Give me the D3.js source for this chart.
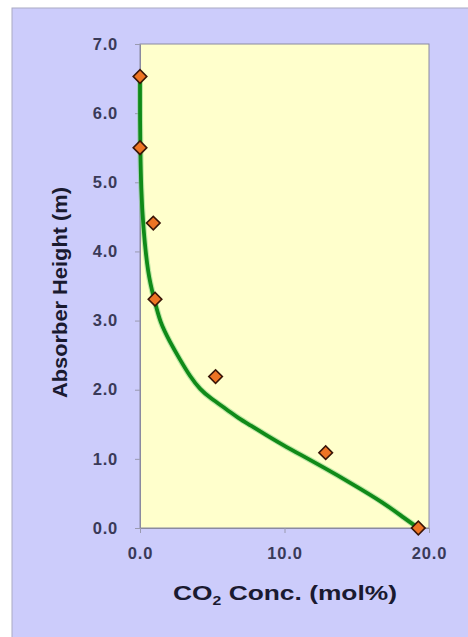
<!DOCTYPE html>
<html>
<head>
<meta charset="utf-8">
<script src="https://cdn.jsdelivr.net/npm/d3@7"></script>
<style>
  html, body { margin: 0; padding: 0; background: #ffffff; }
  svg { display: block; }
</style>
</head>
<body>
<svg id="chart" width="468" height="637"></svg>
<script>
// Measured CO2 concentration (mol%) at each absorber height (m)
const co2Measured = [0.0, 0.0, 0.92, 1.04, 5.23, 12.85, 19.26];
const heightMeasured = [6.53, 5.5, 4.41, 3.31, 2.19, 1.09, 0.0];

// Smoothed model profile through the column
const co2Model = [0.0, 0.0, 0.02, 0.08, 0.2, 0.55, 1.0, 1.39, 2.05, 2.78, 3.47, 4.17, 4.86, 6.04, 6.8, 7.6, 8.7, 9.9, 11.2, 12.5, 14.6, 16.9, 18.3, 19.26];
const heightModel = [6.53, 6.0, 5.5, 4.9, 4.4, 3.65, 3.3, 2.97, 2.7, 2.43, 2.19, 2.0, 1.88, 1.71, 1.59, 1.49, 1.35, 1.2, 1.05, 0.9, 0.65, 0.36, 0.14, 0.0];

const xTicks = [0, 10, 20];
const xTickLabels = ["0.0", "10.0", "20.0"];
const yTicks = [0, 1, 2, 3, 4, 5, 6, 7];
const yTickLabels = ["0.0", "1.0", "2.0", "3.0", "4.0", "5.0", "6.0", "7.0"];

const svg = d3.select("#chart");
const W = 468, H = 637;
const plot = { left: 140, top: 44, right: 429, bottom: 528 };

// Outer panel
svg.append("rect")
  .attr("x", 12).attr("y", 8)
  .attr("width", W - 12 + 2).attr("height", H - 8 + 2)
  .attr("fill", "#ccccfb")
  .attr("stroke", "#a9a9c4").attr("stroke-width", 1);

const x = d3.scaleLinear().domain([0, 20]).range([plot.left, plot.right]);
const y = d3.scaleLinear().domain([0, 7]).range([plot.bottom, plot.top]);

// Plot area
svg.append("rect")
  .attr("x", plot.left).attr("y", plot.top)
  .attr("width", plot.right - plot.left).attr("height", plot.bottom - plot.top)
  .attr("fill", "#ffffcc")
  .attr("stroke", "#8a8aa0").attr("stroke-width", 1);

// Axes
const font = "Arial, 'Liberation Sans', sans-serif";
const yAxis = d3.axisLeft(y).tickValues(yTicks)
  .tickFormat((d, i) => yTickLabels[i]).tickSizeInner(5).tickSizeOuter(0).tickPadding(17);
const xAxis = d3.axisBottom(x).tickValues(xTicks)
  .tickFormat((d, i) => xTickLabels[i]).tickSizeInner(5).tickSizeOuter(0).tickPadding(14);

const gy = svg.append("g").attr("transform", `translate(${plot.left},0)`).call(yAxis);
const gx = svg.append("g").attr("transform", `translate(0,${plot.bottom})`).call(xAxis);
[gx, gy].forEach(g => {
  g.select(".domain").attr("stroke", "#8a8aa0");
  g.selectAll(".tick line").attr("stroke", "#9a9ab0");
  g.selectAll(".tick text")
    .attr("fill", "#3a3a58")
    .style("font-family", font)
    .style("font-size", "16.5px")
    .style("letter-spacing", "0.8px")
    .style("font-weight", "bold");
});

// Model profile (B-spline through the profile points)
const line = d3.line()
  .x((d, i) => x(co2Model[i]))
  .y((d, i) => y(heightModel[i]))
  .curve(d3.curveBasis);

svg.append("path")
  .datum(co2Model)
  .attr("d", line)
  .attr("fill", "none")
  .attr("stroke", "#7fd07f")
  .attr("stroke-opacity", 0.5)
  .attr("stroke-width", 6);
svg.append("path")
  .datum(co2Model)
  .attr("d", line)
  .attr("fill", "none")
  .attr("stroke", "#108a18")
  .attr("stroke-width", 3.8)
  .attr("stroke-linejoin", "round");

// Measured points
const diamond = d3.symbol().type(d3.symbolSquare).size(92);
svg.append("g").selectAll("path")
  .data(co2Measured)
  .join("path")
  .attr("d", diamond)
  .attr("transform", (d, i) => `translate(${x(d)},${y(heightMeasured[i])}) rotate(45)`)
  .attr("fill", "#ee7424")
  .attr("stroke", "#3a1508")
  .attr("stroke-width", 1.6);

// Axis titles
const xTitle = svg.append("text")
  .attr("x", 285).attr("y", 600)
  .attr("text-anchor", "middle")
  .attr("fill", "#1a1a30")
  .style("font-family", font)
  .style("font-size", "20px")
  .style("font-weight", "bold");
xTitle.append("tspan").text("CO");
xTitle.append("tspan").text("2").attr("dy", 5).style("font-size", "12px");
xTitle.append("tspan").text(" Conc. (mol%)").attr("dy", -5);
xTitle.attr("textLength", 224).attr("lengthAdjust", "spacingAndGlyphs");

svg.append("text")
  .attr("transform", "translate(67,292.5) rotate(-90)")
  .attr("text-anchor", "middle")
  .attr("fill", "#1a1a30")
  .style("font-family", font)
  .style("font-size", "20px")
  .style("font-weight", "bold")
  .attr("textLength", 211)
  .attr("lengthAdjust", "spacingAndGlyphs")
  .text("Absorber Height (m)");
</script>
</body>
</html>
